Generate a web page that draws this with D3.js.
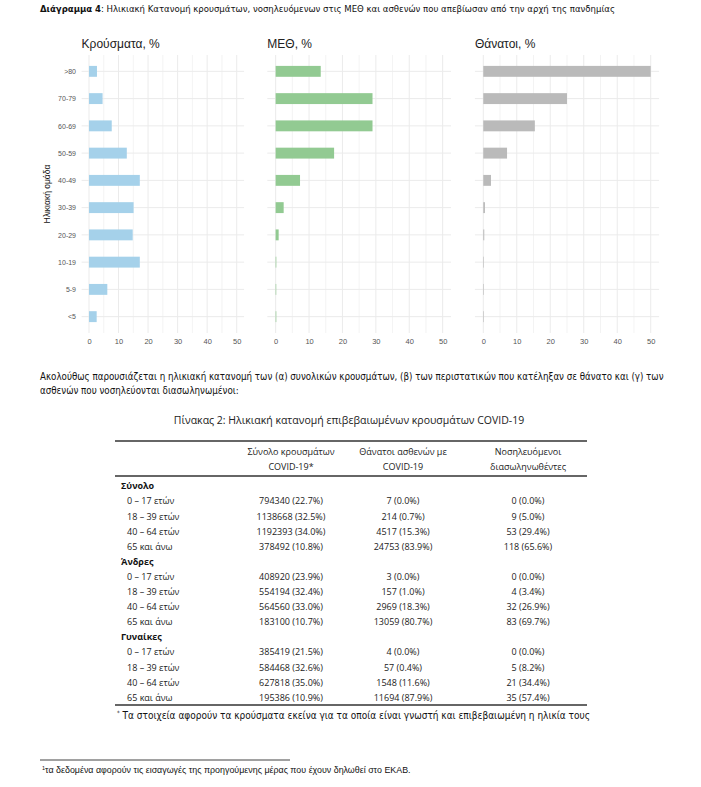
<!DOCTYPE html>
<html><head><meta charset="utf-8">
<script src="https://cdn.jsdelivr.net/npm/d3@7"></script>
<style>
body{margin:0;background:#fff;}
svg{display:block;}
</style></head><body>
<svg id="c" width="701" height="787"></svg>
<script>
// ---------- DATA ----------
const ageGroups = [">80","70-79","60-69","50-59","40-49","30-39","20-29","10-19","5-9","<5"];
const casesPct  = [2.7, 4.6, 7.7, 12.8, 17.2, 15.1, 14.8, 17.2, 6.2, 2.6];
const icuPct    = [13.5, 29.0, 29.0, 17.5, 7.3, 2.4, 0.9, 0.2, 0.1, 0.2];
const deathsPct = [50.0, 25.0, 15.4, 7.1, 2.3, 0.5, 0.3, 0.1, 0.05, 0.1];
const panelTitles = ["Κρούσματα, %","ΜΕΘ, %","Θάνατοι, %"];
const xTicks = [0,10,20,30,40,50];

const tableGroups = ["Σύνολο","Άνδρες","Γυναίκες"];
const tableAges = ["0 – 17 ετών","18 – 39 ετών","40 – 64 ετών","65 και άνω"];
const tableHeaders = [["Σύνολο κρουσμάτων","COVID-19*"],["Θάνατοι ασθενών με","COVID-19"],["Νοσηλευόμενοι","διασωληνωθέντες"]];
const colCases = [
  ["794340 (22.7%)","1138668 (32.5%)","1192393 (34.0%)","378492 (10.8%)"],
  ["408920 (23.9%)","554194 (32.4%)","564560 (33.0%)","183100 (10.7%)"],
  ["385419 (21.5%)","584468 (32.6%)","627818 (35.0%)","195386 (10.9%)"]];
const colDeaths = [
  ["7 (0.0%)","214 (0.7%)","4517 (15.3%)","24753 (83.9%)"],
  ["3 (0.0%)","157 (1.0%)","2969 (18.3%)","13059 (80.7%)"],
  ["4 (0.0%)","57 (0.4%)","1548 (11.6%)","11694 (87.9%)"]];
const colIntub = [
  ["0 (0.0%)","9 (5.0%)","53 (29.4%)","118 (65.6%)"],
  ["0 (0.0%)","4 (3.4%)","32 (26.9%)","83 (69.7%)"],
  ["0 (0.0%)","5 (8.2%)","21 (34.4%)","35 (57.4%)"]];

const chartTitleBold = "Διάγραμμα 4";
const chartTitleRest = ": Ηλικιακή Κατανομή κρουσμάτων, νοσηλευόμενων στις ΜΕΘ και ασθενών που απεβίωσαν από την αρχή της πανδημίας";
const paraLines = ["Ακολούθως παρουσιάζεται η ηλικιακή κατανομή των (α) συνολικών κρουσμάτων, (β) των περιστατικών που κατέληξαν σε θάνατο και (γ) των",
                   "ασθενών που νοσηλεύονται διασωληνωμένοι:"];
const tableTitle = "Πίνακας 2: Ηλικιακή κατανομή επιβεβαιωμένων κρουσμάτων COVID-19";
const tableNote = "Τα στοιχεία αφορούν τα κρούσματα εκείνα για τα οποία είναι γνωστή και επιβεβαιωμένη η ηλικία τους";
const pageNote = "τα δεδομένα αφορούν τις εισαγωγές της προηγούμενης μέρας που έχουν δηλωθεί στο ΕΚΑΒ.";

// ---------- DRAW ----------
const svg = d3.select("#c");
svg.append("rect").attr("width",701).attr("height",787).attr("fill","#fff");
const narrow = "'Liberation Sans Narrow','DejaVu Sans Condensed','Liberation Sans',sans-serif";
const tfont = "'Open Sans','Noto Sans',sans-serif";

const t = svg.append("text").attr("x",40).attr("y",11.5).attr("font-family",narrow).attr("font-size",9.5).attr("fill","#111");
t.append("tspan").attr("font-weight","bold").text(chartTitleBold);
t.append("tspan").text(chartTitleRest);

const panels = [
  {vals:casesPct, color:"#a5d1ea", range:[81.6,244.1]},
  {vals:icuPct, color:"#92ca92", range:[267.3,451.0]},
  {vals:deathsPct, color:"#bababa", range:[474.9,659.1]}
];
const y = d3.scalePoint().domain(ageGroups).range([55,333]).padding(0.6);
const barH = y.step()*0.4;

panels.forEach((p,i)=>{
  const x = d3.scaleLinear().domain([-2.5,52.5]).range(p.range);
  const g = svg.append("g");
  d3.range(0,51,5).forEach(v=>{
    g.append("line").attr("x1",x(v)).attr("x2",x(v)).attr("y1",55).attr("y2",333)
      .attr("stroke","#ebebeb").attr("stroke-width", v%10===0?1:0.6);
  });
  ageGroups.forEach(a=>{
    g.append("line").attr("x1",p.range[0]).attr("x2",p.range[1]).attr("y1",y(a)).attr("y2",y(a))
      .attr("stroke","#ebebeb").attr("stroke-width",1);
  });
  g.selectAll("rect.bar").data(ageGroups.map((a,k)=>({a,v:p.vals[k]}))).enter().append("rect")
    .attr("x",x(0)).attr("y",d=>y(d.a)-barH/2).attr("width",d=>Math.max(0.6,x(d.v)-x(0))).attr("height",barH)
    .attr("fill",p.color);
  const ax = d3.axisBottom(x).tickValues(xTicks).tickSize(0).tickPadding(0);
  const axg = svg.append("g").attr("transform","translate(0,339)").call(ax);
  axg.select(".domain").remove();
  axg.selectAll("text").attr("font-family","'Liberation Sans',Arial,sans-serif").attr("font-size",7.5).attr("fill","#555");
  svg.append("text").attr("x",p.range[0]).attr("y",48).attr("font-family","'Liberation Sans',Arial,sans-serif")
    .attr("font-size",12).attr("fill","#222").text(panelTitles[i]);
  if(i===0){
    const ay = d3.axisLeft(y).tickSize(0).tickPadding(0);
    const ayg = svg.append("g").attr("transform","translate(76,0)").call(ay);
    ayg.select(".domain").remove();
    ayg.selectAll("text").attr("font-family","'Liberation Sans',Arial,sans-serif").attr("font-size",7).attr("fill","#555");
    svg.append("text").attr("transform","translate(50,194) rotate(-90)").attr("text-anchor","middle")
      .attr("font-family","'Liberation Sans',Arial,sans-serif").attr("font-size",8.5).attr("fill","#111").text("Ηλικιακή ομάδα");
  }
});

paraLines.forEach((l,i)=>{
  svg.append("text").attr("x",40).attr("y",380+i*14).attr("font-family",narrow).attr("font-size",9.7).attr("fill","#111").text(l);
});

svg.append("text").attr("x",349).attr("y",424).attr("text-anchor","middle").attr("font-family",tfont)
  .attr("font-size",10.5).attr("fill","#222").text(tableTitle);
const tl=115, tr=587;
[441,476,705].forEach(yy=>svg.append("line").attr("x1",tl).attr("x2",tr).attr("y1",yy).attr("y2",yy).attr("stroke","#333").attr("stroke-width",1.5));
const colX = [291,403,528];
tableHeaders.forEach((h,i)=>{
  h.forEach((s,j)=>svg.append("text").attr("x",colX[i]).attr("y",455+j*14.5).attr("text-anchor","middle")
    .attr("font-family",tfont).attr("font-size",9).attr("fill","#222").text(s));
});
const rowY = d3.scaleLinear().domain([0,14]).range([486,697.4]);
const cols = [colCases,colDeaths,colIntub];
tableGroups.forEach((gname,gi)=>{
  const base = gi*5;
  svg.append("text").attr("x",121).attr("y",rowY(base)+3.3).attr("font-family",tfont).attr("font-weight","bold")
    .attr("font-size",9).attr("fill","#111").text(gname);
  tableAges.forEach((a,ai)=>{
    const yy = rowY(base+1+ai)+3.3;
    svg.append("text").attr("x",127).attr("y",yy).attr("font-family",tfont).attr("font-size",9).attr("fill","#222").text(a);
    cols.forEach((c,ci)=>{
      svg.append("text").attr("x",colX[ci]).attr("y",yy).attr("text-anchor","middle").attr("font-family",tfont)
        .attr("font-size",9).attr("fill","#222").text(c[gi][ai]);
    });
  });
});
const tn = svg.append("text").attr("x",117).attr("y",719).attr("font-family",narrow).attr("font-size",10).attr("fill","#111");
tn.append("tspan").attr("font-size",6).attr("dy",-4).text("*");
tn.append("tspan").attr("dy",4).text(" "+tableNote);

svg.append("line").attr("x1",40).attr("x2",290).attr("y1",760).attr("y2",760).attr("stroke","#111").attr("stroke-width",0.8);
const pn = svg.append("text").attr("x",42).attr("y",773).attr("font-family","'Liberation Sans','DejaVu Sans',sans-serif").attr("font-size",8.9).attr("fill","#111");
pn.append("tspan").attr("font-size",5.5).attr("dy",-3).text("1");
pn.append("tspan").attr("dy",3).text(pageNote);
</script>
</body></html>
